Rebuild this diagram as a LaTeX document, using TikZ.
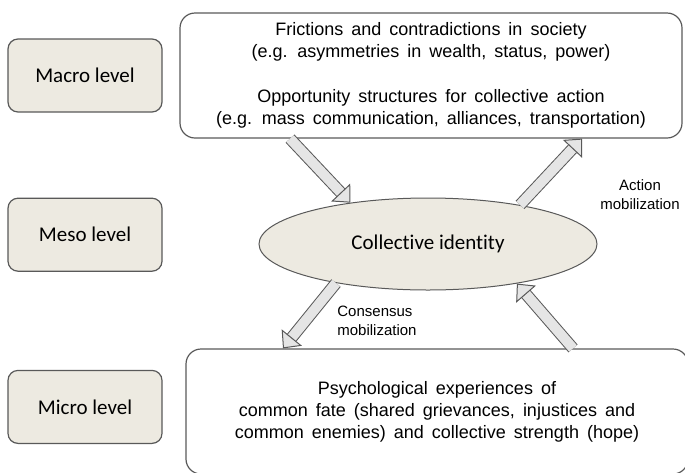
\documentclass[tikz,border=0pt]{standalone}
\usepackage{fontspec}
\setmainfont{Liberation Sans}
\newfontfamily\boxfont{Liberation Sans}[WordSpace=1.6]
\newfontfamily\calibri{Carlito}[Ligatures=NoCommon]
\usetikzlibrary{positioning,shapes.geometric,arrows.meta}
\definecolor{levelfill}{HTML}{EDEAE1}
\definecolor{edgegray}{HTML}{595959}

\begin{document}
\begin{tikzpicture}[x=1pt, y=1pt, thick,
    level/.style={rectangle, rounded corners=10pt, draw=edgegray, line width=1.2pt,
                  fill=levelfill, minimum width=154pt, minimum height=73pt,
                  font=\calibri\fontsize{21}{25}\selectfont},
    textbox/.style={rectangle, rounded corners=15pt, draw=edgegray, line width=1.2pt,
                    minimum width=502pt, minimum height=125pt, align=center,
                    font=\boxfont\fontsize{18}{22}\selectfont},
    fat/.style={draw=edgegray, line width=1pt, double=gray!20, double distance=10pt,
                -{Triangle[length=14pt, width=26pt, fill=gray!20]}},
    note/.style={font=\fontsize{15}{19}\selectfont}]

\useasboundingbox (0,0) rectangle (685,-472);

% the three levels
\node[level] (macro) at (85,-75.5) {Macro level};
\node[level] (meso) [below=85pt of macro] {Meso level};
\node[level] (micro) [below=98pt of meso] {Micro level};

\node[textbox] (society) at (431,-75.5) {Frictions and contradictions in society\\
    (e.g. asymmetries in wealth, status, power)\\[23pt]
    Opportunity structures for collective action\\
    (e.g. mass communication, alliances, transportation)};
\node[ellipse, draw=edgegray, line width=1pt, fill=levelfill, inner sep=0pt,
      minimum width=338pt, minimum height=92pt,
      font=\calibri\fontsize{21}{25}\selectfont] (identity) at (428,-244) {Collective identity};
\node[textbox] (psych) at (437,-411.5) {Psychological experiences of\\
    common fate (shared grievances, injustices and\\
    common enemies) and collective strength (hope)};

\node[note, align=center] (action) at (640,-195) {Action\\mobilization};
\node[note, align=left] (consensus) at (377,-321) {Consensus\\mobilization};

% mobilization arrows
\draw[fat] ([xshift=-141pt]society.south) -- (identity.152);
\draw[fat] (identity.23) -- ([xshift=151pt]society.south);
\draw[fat] (identity.203) -- ([xshift=-154pt]psych.north);
\draw[fat] ([xshift=136pt]psych.north) -- (identity.-24);
\end{tikzpicture}
\end{document}
